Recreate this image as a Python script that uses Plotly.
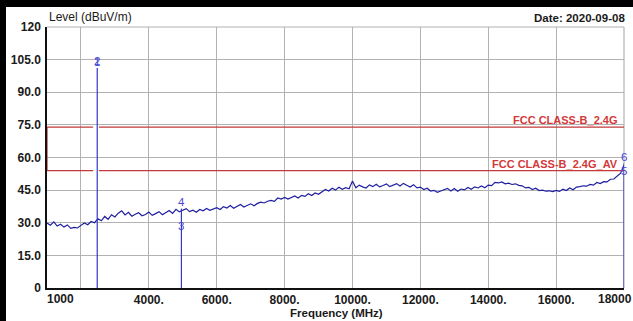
import plotly.graph_objects as go

# ---------------- data ----------------
freq_mhz = [
    1000, 1100, 1200, 1300, 1400, 1500, 1600, 1700, 1800, 1900,
    2000, 2100, 2200, 2300, 2400, 2500, 2600, 2700, 2800, 2900,
    3000, 3100, 3200, 3300, 3400, 3500, 3600, 3700, 3800, 3900,
    4000, 4100, 4200, 4300, 4400, 4500, 4600, 4700, 4800, 4900,
    5000, 5100, 5200, 5300, 5400, 5500, 5600, 5700, 5800, 5900,
    6000, 6100, 6200, 6300, 6400, 6500, 6600, 6700, 6800, 6900,
    7000, 7100, 7200, 7300, 7400, 7500, 7600, 7700, 7800, 7900,
    8000, 8100, 8200, 8300, 8400, 8500, 8600, 8700, 8800, 8900,
    9000, 9100, 9200, 9300, 9400, 9500, 9600, 9700, 9800, 9900,
    10000, 10100, 10200, 10300, 10400, 10500, 10600, 10700, 10800, 10900,
    11000, 11100, 11200, 11300, 11400, 11500, 11600, 11700, 11800, 11900,
    12000, 12100, 12200, 12300, 12400, 12500, 12600, 12700, 12800, 12900,
    13000, 13100, 13200, 13300, 13400, 13500, 13600, 13700, 13800, 13900,
    14000, 14100, 14200, 14300, 14400, 14500, 14600, 14700, 14800, 14900,
    15000, 15100, 15200, 15300, 15400, 15500, 15600, 15700, 15800, 15900,
    16000, 16100, 16200, 16300, 16400, 16500, 16600, 16700, 16800, 16900,
    17000, 17100, 17200, 17300, 17400, 17500, 17600, 17700, 17800, 17900,
    18000,
]
level_dbuv = [
    29.9, 28.9, 30.4, 28.5, 29.3, 28.0, 29.0, 27.4, 27.9, 27.6,
    28.8, 29.9, 29.1, 30.6, 30.0, 31.8, 30.9, 32.9, 31.6, 33.7,
    32.7, 34.4, 35.5, 33.6, 34.8, 33.0, 33.9, 34.6, 33.2, 33.8,
    34.9, 33.4, 34.2, 35.1, 33.7, 34.6, 35.6, 34.3, 36.2, 35.0,
    35.9, 36.5, 35.1, 35.8, 34.8, 36.1, 35.5, 36.6, 35.7, 36.4,
    36.9, 36.1, 37.4, 36.8, 37.9, 36.7, 37.6, 38.4, 37.2, 38.1,
    38.7, 37.8, 38.9, 39.5, 39.1, 39.9, 40.3, 39.8, 41.4, 40.9,
    41.6, 40.9, 41.5, 42.3, 41.4, 42.6, 42.1, 43.3, 42.5, 43.7,
    43.1, 44.2, 45.3, 44.6, 45.9, 45.0, 46.3, 45.4, 46.1, 45.6,
    49.2, 46.1, 47.3, 46.5, 46.0, 47.4, 46.6, 47.7, 46.5, 47.1,
    47.8, 46.6, 47.3, 48.0, 46.9, 48.1, 47.2, 46.4, 47.5, 46.0,
    46.4, 45.3, 45.9, 44.6, 44.9, 44.0, 44.6, 45.3, 45.8, 44.6,
    45.7, 44.5, 45.5, 45.1, 46.2, 45.4, 46.5, 46.0, 46.9, 46.1,
    47.3, 47.1, 48.6, 48.3, 48.8, 47.9, 48.2, 47.6, 47.9, 47.2,
    47.0, 46.0, 46.3, 45.3, 45.9, 44.8, 45.0, 44.5, 44.7, 44.3,
    44.9, 44.4, 45.4, 44.8, 46.0, 45.2, 46.4, 46.6, 47.0, 46.8,
    47.6, 47.3, 48.5, 48.0, 48.9, 48.8, 50.0, 50.1, 51.6, 52.8,
    56.5,
]

# markers (number, frequency, level)
marker_ids = ["1", "2", "3", "4", "5", "6"]
marker_freq = [2480, 2480, 4960, 4960, 18000, 18000]
marker_level = [100.8, 101.2, 25.3, 36.5, 50.6, 57.2]

# limit lines (gap across the band edge region)
limit_names = ["FCC CLASS-B_2.4G", "FCC CLASS-B_2.4G_AV"]
limit_levels = [74.0, 54.0]
limit_gap = [2360, 2530]
limit_label_freq = 17880

x_tickvals = [1000, 2000, 4000, 6000, 8000, 10000, 12000, 14000, 16000, 18000]
x_ticktext = ["", "", "4000.", "6000.", "8000.", "10000.", "12000.", "14000.", "16000.", ""]
y_tickvals = [0, 15, 30, 45, 60, 75, 90, 105, 120]
y_ticktext = ["0", "15.0", "30.0", "45.0", "60.0", "75.0", "90.0", "105.0", "120"]

x_min, x_max = 1000, 18000
y_min, y_max = 0, 120

# ---------------- styles ----------------
FONT = "Liberation Sans, Arial, sans-serif"
TRACE_C = "#1e1ea0"
MARK_C = "#3636c8"
MARK_TXT = "#4646d6"
RED = "#c23a3a"
RED_TXT = "#d23a3a"
GRID = "#b2b2b2"
TXT = "#1a1a1a"
FRAME = "#000000"

fig = go.Figure()

# measurement trace
fig.add_trace(go.Scatter(x=freq_mhz, y=level_dbuv, mode="lines",
                         line=dict(color=TRACE_C, width=1.2), hoverinfo="skip"))

# limit lines
lo_pk, lo_av = limit_levels
fig.add_trace(go.Scatter(x=[limit_gap[0], x_min, x_min, limit_gap[0]],
                         y=[lo_pk, lo_pk, lo_av, lo_av], mode="lines",
                         line=dict(color=RED, width=1.3), hoverinfo="skip"))
for lv in limit_levels:
    fig.add_trace(go.Scatter(x=[limit_gap[1], x_max], y=[lv, lv], mode="lines",
                             line=dict(color=RED, width=1.3), hoverinfo="skip"))

# marker vertical lines (highest marker per frequency)
mx, my = [], []
for f in sorted(set(marker_freq)):
    top = max(l for ff, l in zip(marker_freq, marker_level) if ff == f)
    mx += [f, f, None]
    my += [y_min, top, None]
fig.add_trace(go.Scatter(x=mx, y=my, mode="lines",
                         line=dict(color=MARK_C, width=1.2), hoverinfo="skip"))

annotations = []
for mid, f, l in zip(marker_ids, marker_freq, marker_level):
    annotations.append(dict(x=f, y=l, xref="x", yref="y", text=mid, showarrow=False,
                            yshift=7, xanchor="center", yanchor="middle",
                            font=dict(family=FONT, size=11.5, color=MARK_TXT)))

for name, lv in zip(limit_names, limit_levels):
    annotations.append(dict(x=limit_label_freq, y=lv, xref="x", yref="y", text="<b>%s</b>" % name,
                            showarrow=False, xanchor="right", yanchor="bottom", yshift=-1,
                            font=dict(family=FONT, size=11, color=RED_TXT)))

# end tick labels of the x axis
annotations.append(dict(x=x_min, y=0, xref="x", yref="paper", text="<b>1000</b>", showarrow=False,
                        xanchor="left", yanchor="top", yshift=-2, xshift=-2,
                        font=dict(family=FONT, size=12, color=TXT)))
annotations.append(dict(x=x_max, y=0, xref="x", yref="paper", text="<b>18000</b>", showarrow=False,
                        xanchor="right", yanchor="top", yshift=-2, xshift=10,
                        font=dict(family=FONT, size=12, color=TXT)))

# titles
annotations.append(dict(x=0, y=1.0, xref="paper", yref="paper", text="Level (dBuV/m)",
                        showarrow=False, xanchor="left", yanchor="bottom", yshift=1,
                        font=dict(family=FONT, size=12, color=TXT)))
annotations.append(dict(x=1.0, y=1.0, xref="paper", yref="paper", text="<b>Date: 2020-09-08</b>",
                        showarrow=False, xanchor="right", yanchor="bottom", yshift=1, xshift=3,
                        font=dict(family=FONT, size=11.5, color=TXT)))
annotations.append(dict(x=0.502, y=0, xref="paper", yref="paper", text="<b>Frequency (MHz)</b>",
                        showarrow=False, xanchor="center", yanchor="top", yshift=-17,
                        font=dict(family=FONT, size=11.5, color=TXT)))

W, H = 633, 321
L, R, T, B = 47, 9, 27, 33
pw, ph = W - L - R, H - T - B
BORDER_L, BORDER_T = 6, 7

# dark screenshot frame (left and top) as filled boxes
annotations.append(dict(x=-L / pw, y=(H - B) / ph, xref="paper", yref="paper", text=" ",
                        showarrow=False, xanchor="left", yanchor="top", width=BORDER_L, height=H,
                        bgcolor=FRAME, borderpad=0, borderwidth=0, font=dict(size=1)))
annotations.append(dict(x=-L / pw, y=(H - B) / ph, xref="paper", yref="paper", text=" ",
                        showarrow=False, xanchor="left", yanchor="top", width=W, height=BORDER_T,
                        bgcolor=FRAME, borderpad=0, borderwidth=0, font=dict(size=1)))

shapes = [
    # gray top / right frame
    dict(type="line", xref="paper", yref="paper", x0=0, x1=1, y0=1, y1=1,
         line=dict(color=GRID, width=1.2)),
    dict(type="line", xref="paper", yref="paper", x0=1, x1=1, y0=0, y1=1,
         line=dict(color=GRID, width=1.2), layer="below"),
]

fig.update_layout(
    width=W, height=H, margin=dict(l=L, r=R, t=T, b=B),
    paper_bgcolor="white", plot_bgcolor="white", showlegend=False,
    annotations=annotations, shapes=shapes,
    font=dict(family=FONT, size=12, color=TXT),
    xaxis=dict(range=[x_min, x_max], tickvals=x_tickvals, ticktext=x_ticktext,
               showgrid=True, gridcolor=GRID, gridwidth=1.2, zeroline=False,
               showline=True, linecolor="#111111", linewidth=1.5, ticks="",
               tickfont=dict(family=FONT, size=12, color=TXT, weight="bold")),
    yaxis=dict(range=[y_min, y_max], tickvals=y_tickvals, ticktext=y_ticktext,
               showgrid=True, gridcolor=GRID, gridwidth=1.2, zeroline=False,
               showline=True, linecolor="#111111", linewidth=1.5, ticks="",
               ticklabelstandoff=2,
               tickfont=dict(family=FONT, size=12, color=TXT, weight="bold")),
)

fig.write_html("out.html", config={"displayModeBar": False},
               post_script="document.body.style.margin='0';")
